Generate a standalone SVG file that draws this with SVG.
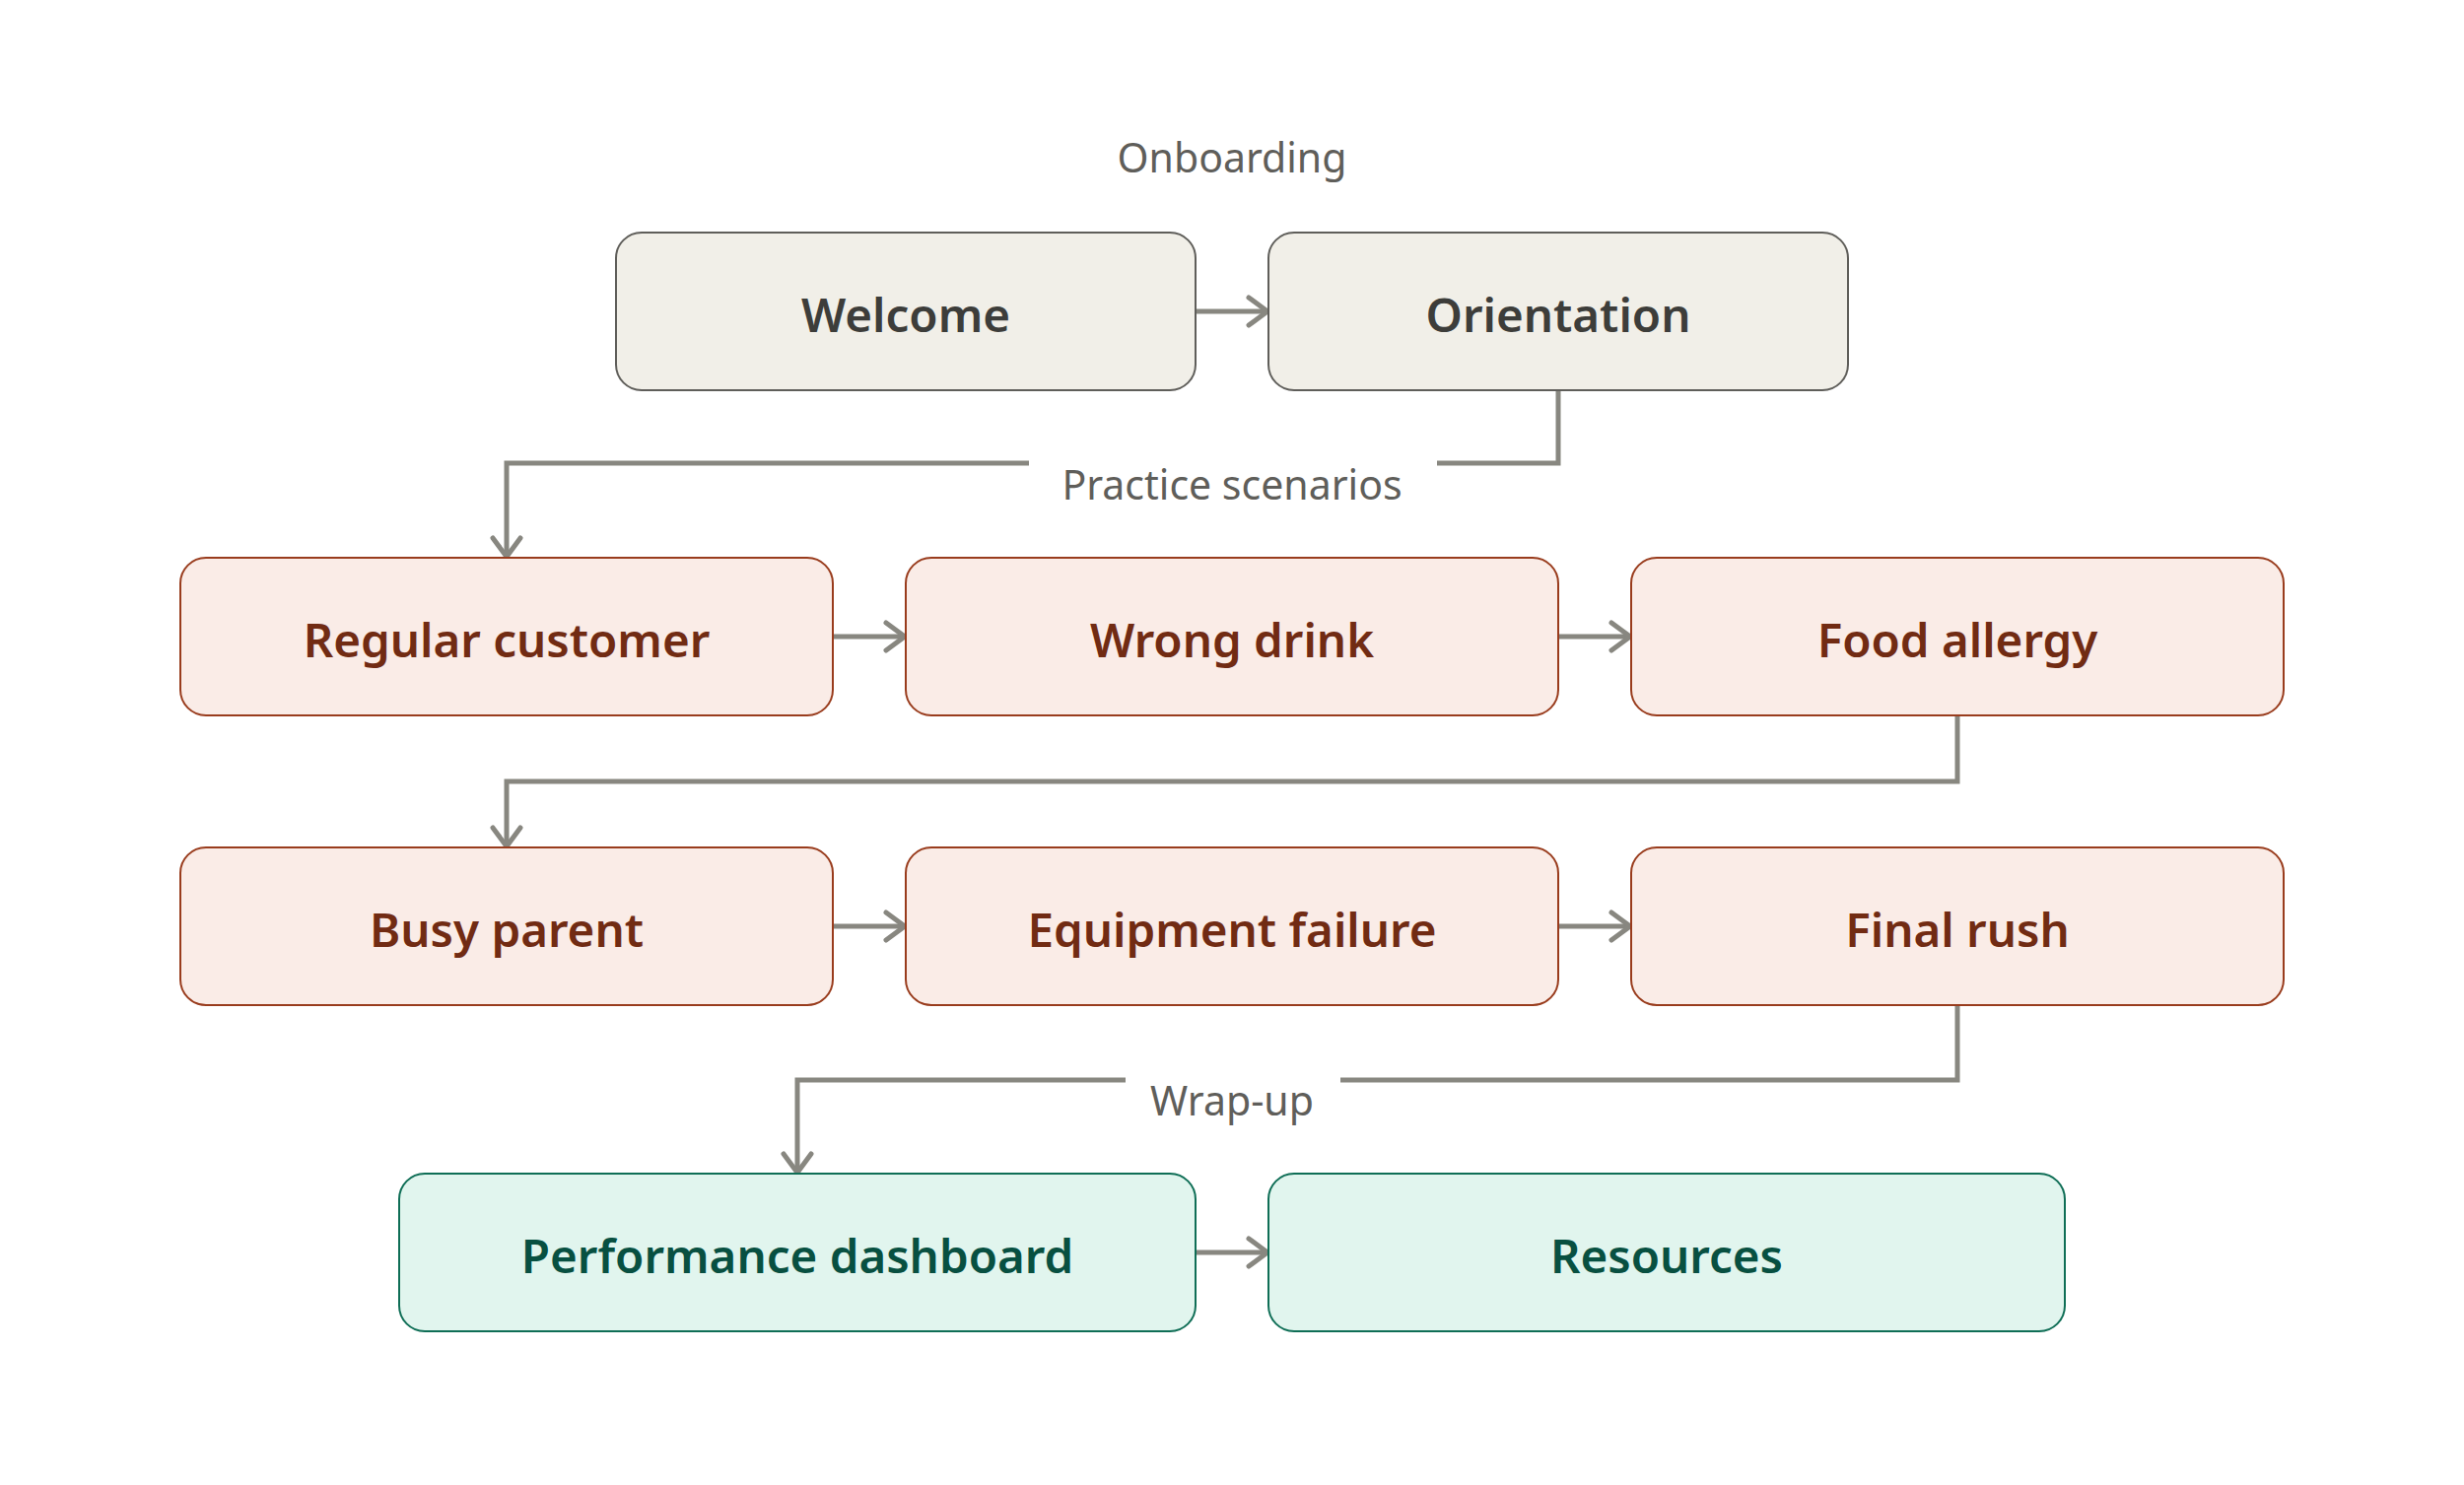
<svg xmlns="http://www.w3.org/2000/svg" width="2500" height="1507" viewBox="0 0 2500 1507">
  <style>
    .box { stroke-width: 2; }
    .on rect { fill: #f1efe8; stroke: #5f5e5a; }
    .pr rect { fill: #faece7; stroke: #993c1d; }
    .wr rect { fill: #e1f5ee; stroke: #0f6e56; }
    .nt { font-family: "Noto Sans", "Open Sans", sans-serif; font-size: 47.5px; font-weight: 600; text-anchor: middle; }
    .on text { fill: #3d3d3a; }
    .pr text { fill: #712b13; }
    .wr text { fill: #085041; }
    .lbl { font-family: "Noto Sans", "Open Sans", sans-serif; font-size: 41px; fill: #5f5e5a; text-anchor: middle; }
    .conn path { fill: none; stroke: #888780; stroke-width: 5; stroke-linejoin: miter; }
  </style>
  <defs>
    <marker id="arr" viewBox="-28 -20 32 40" refX="0" refY="0" markerWidth="32" markerHeight="40" markerUnits="userSpaceOnUse" orient="auto">
      <path d="M-20,-14 L-1,0 L-20,14" fill="none" stroke="#888780" stroke-width="5" stroke-linecap="round" stroke-linejoin="round"/>
    </marker>
  </defs>
  <rect width="2500" height="1507" fill="#ffffff"/>

  <g id="connectors" class="conn">
    <path d="M1213,316 H1287" marker-end="url(#arr)"/>
    <path d="M1581,396 V470 H514 V566" marker-end="url(#arr)"/>
    <path d="M845,646 H919" marker-end="url(#arr)"/>
    <path d="M1581,646 H1655" marker-end="url(#arr)"/>
    <path d="M1986,726 V793 H514 V860" marker-end="url(#arr)"/>
    <path d="M845,940 H919" marker-end="url(#arr)"/>
    <path d="M1581,940 H1655" marker-end="url(#arr)"/>
    <path d="M1986,1020 V1096 H809 V1191" marker-end="url(#arr)"/>
    <path d="M1213,1271 H1287" marker-end="url(#arr)"/>
  </g>

  <g id="labels">
    <text class="lbl" x="1250" y="175">Onboarding</text>
    <rect x="1044" y="450" width="414" height="70" fill="#ffffff"/>
    <text class="lbl" x="1250" y="507">Practice scenarios</text>
    <rect x="1142" y="1076" width="218" height="70" fill="#ffffff"/>
    <text class="lbl" x="1250" y="1132">Wrap-up</text>
  </g>

  <g id="welcome" class="on"><rect class="box" x="625" y="236" width="588" height="160" rx="26"/><text class="nt" x="919" y="337">Welcome</text></g>
  <g id="orientation" class="on"><rect class="box" x="1287" y="236" width="588" height="160" rx="26"/><text class="nt" x="1581" y="337">Orientation</text></g>

  <g id="regular-customer" class="pr"><rect class="box" x="183" y="566" width="662" height="160" rx="26"/><text class="nt" x="514" y="667">Regular customer</text></g>
  <g id="wrong-drink" class="pr"><rect class="box" x="919" y="566" width="662" height="160" rx="26"/><text class="nt" x="1250" y="667">Wrong drink</text></g>
  <g id="food-allergy" class="pr"><rect class="box" x="1655" y="566" width="662" height="160" rx="26"/><text class="nt" x="1986" y="667">Food allergy</text></g>

  <g id="busy-parent" class="pr"><rect class="box" x="183" y="860" width="662" height="160" rx="26"/><text class="nt" x="514" y="961">Busy parent</text></g>
  <g id="equipment-failure" class="pr"><rect class="box" x="919" y="860" width="662" height="160" rx="26"/><text class="nt" x="1250" y="961">Equipment failure</text></g>
  <g id="final-rush" class="pr"><rect class="box" x="1655" y="860" width="662" height="160" rx="26"/><text class="nt" x="1986" y="961">Final rush</text></g>

  <g id="performance-dashboard" class="wr"><rect class="box" x="405" y="1191" width="808" height="160" rx="26"/><text class="nt" x="809" y="1292">Performance dashboard</text></g>
  <g id="resources" class="wr"><rect class="box" x="1287" y="1191" width="808" height="160" rx="26"/><text class="nt" x="1691" y="1292">Resources</text></g>
</svg>
